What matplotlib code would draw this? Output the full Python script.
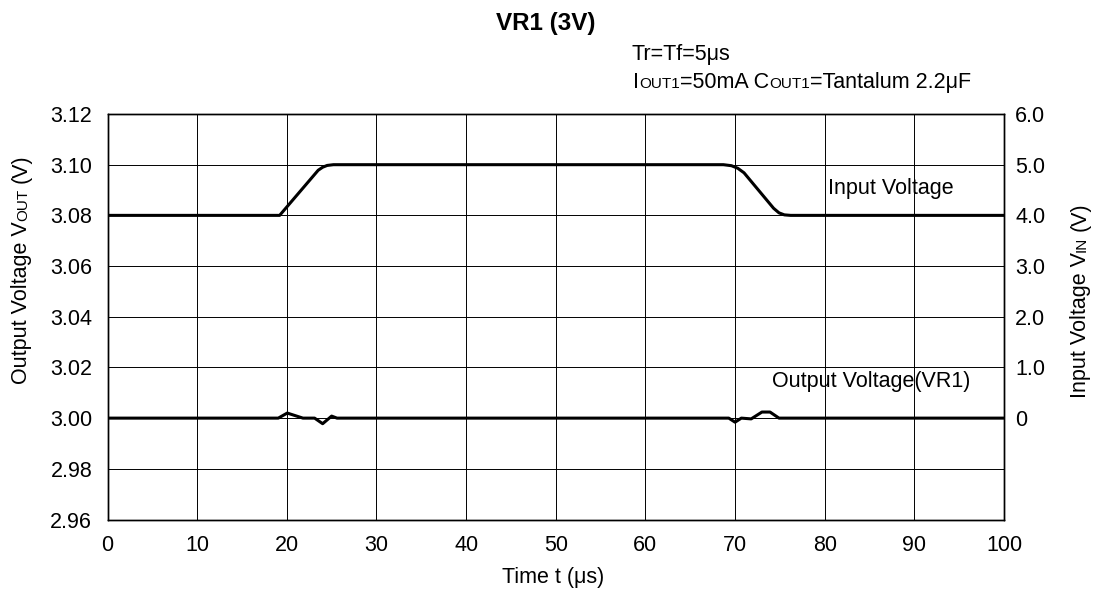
#!/usr/bin/env python3
"""
VR1 (3V) 输入瞬态响应
Line transient response, Tr=Tf=5us
"""

import numpy as np
import matplotlib
matplotlib.use("Agg")
import matplotlib.pyplot as plt

plt.rcParams['font.family'] = ['Liberation Sans', 'DejaVu Sans']

# ---- data ----
# input voltage (right axis, V)
t_in = [0, 19.2, 23.5, 24.0, 24.5, 25.2, 68.7, 69.6, 70.3, 71.0, 74.3, 74.9, 75.5, 76.2, 100]
v_in = [4.0, 4.0, 4.89, 4.95, 4.985, 5.0, 5.0, 4.98, 4.93, 4.84, 4.14, 4.05, 4.01, 4.0, 4.0]

# output voltage (left axis, V)
t_out = [0, 19.05, 20.05, 21.8, 23.1, 24.0, 25.0, 25.6, 69.3, 70.0, 70.7, 71.8, 73.0, 73.9, 74.9, 100]
v_out = [3.0, 3.0, 3.002, 3.0, 3.0, 2.9978, 3.0008, 3.0, 3.0, 2.9984, 3.0, 2.9997, 3.0024, 3.0024, 3.0, 3.0]

x_ticks = [0, 10, 20, 30, 40, 50, 60, 70, 80, 90, 100]
left_ticks = [2.96, 2.98, 3.00, 3.02, 3.04, 3.06, 3.08, 3.10, 3.12]
left_labels = ['2.96', '2.98', '3.00', '3.02', '3.04', '3.06', '3.08', '3.10', '3.12']
right_ticks = [0, 1, 2, 3, 4, 5, 6]
right_labels = ['0', '1.0', '2.0', '3.0', '4.0', '5.0', '6.0']

FS = 15.5    # 正文字号
SUB = 11     # 小号大写 (OUT, IN, OUT1)


def rich_text(fig, x, y, pieces, rotation=0, center=False):
    """按像素位置逐段放置文字 (x, y 从左上角计算), pieces = (text, size, gap_px)"""
    r = fig.canvas.get_renderer()
    W, H = fig.bbox.width, fig.bbox.height
    texts, sizes = [], []
    for s, size, gap in pieces:
        t = fig.text(0, 0, s, fontsize=size, ha='left', va='baseline',
                     rotation=rotation, rotation_mode='anchor')
        ext = t.get_window_extent(renderer=r)
        texts.append((t, gap))
        sizes.append(ext.width if rotation == 0 else ext.height)
    total = sum(sizes) + sum(g for _, g in texts)
    pos = -total / 2 if center else 0.0
    for (t, gap), w in zip(texts, sizes):
        pos += gap
        if rotation == 0:
            t.set_position(((x + pos) / W, (H - y) / H))
        else:
            t.set_position((x / W, (H - y + pos) / H))
        pos += w


fig = plt.figure(figsize=(10.97, 6.01), dpi=100)
ax = fig.add_axes([107.5 / 1097, 1 - 519.5 / 601, (1004 - 107.5) / 1097, (519.5 - 114) / 601])

ax.plot(t_out, v_out, color='black', lw=2.2, solid_joinstyle='round', zorder=3)
ax.set_xlim(0, 100)
ax.set_ylim(2.96, 3.12)
ax.set_xticks(x_ticks)
ax.set_xticklabels([str(v) for v in x_ticks])
ax.set_yticks(left_ticks)
ax.set_yticklabels(left_labels)
ax.grid(True, color='black', lw=0.7)
ax.tick_params(axis='both', length=0, labelsize=FS)
ax.tick_params(axis='y', pad=11)
ax.tick_params(axis='x', pad=11)

ax2 = ax.twinx()
ax2.plot(t_in, v_in, color='black', lw=2.2, solid_joinstyle='round', zorder=3)
ax2.set_ylim(-2, 6)
ax2.set_yticks(right_ticks)
ax2.set_yticklabels(right_labels)
ax2.tick_params(axis='y', length=0, labelsize=FS, pad=8)

for a in (ax, ax2):
    for sp in a.spines.values():
        sp.set_linewidth(1.0)
        sp.set_color('black')

# 曲线标注
ax.text(80.4, 3.0908, 'Input Voltage', fontsize=FS, va='center', ha='left')
ax.text(74.1, 3.0144, 'Output Voltage(VR1)', fontsize=FS, va='center', ha='left')

# 标题与条件
fig.text(546 / 1097, 1 - 30 / 601, 'VR1 (3V)', fontsize=17.5, fontweight='bold',
         ha='center', va='baseline')
fig.text(632 / 1097, 1 - 60 / 601, 'Tr=Tf=5μs', fontsize=FS, ha='left', va='baseline')
sp_w = 0.278 * FS * 100 / 72
rich_text(fig, 633, 88.3, [('I', FS, 0), ('OUT1', SUB, 0), ('=50mA C', FS, 0),
                           ('OUT1', SUB, 0), ('=Tantalum 2.2μF', FS, 0)])

# 坐标轴标题
fig.text(553 / 1097, 1 - 577 / 601, 'Time t (μs)', fontsize=FS, ha='center', va='center')
rich_text(fig, 27, 269, [('Output Voltage V', FS, 0), ('OUT', SUB, 0), ('(V)', FS, sp_w)],
          rotation=90, center=True)
rich_text(fig, 1086, 300, [('Input Voltage V', FS, 0), ('IN', SUB, 0), ('(V)', FS, sp_w)],
          rotation=90, center=True)

fig.savefig('out.png', dpi=100)
